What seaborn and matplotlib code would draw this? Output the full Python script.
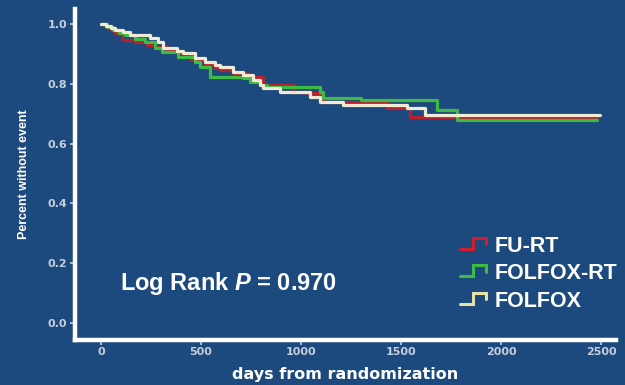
import matplotlib
matplotlib.use("Agg")
import matplotlib.pyplot as plt
from matplotlib.lines import Line2D
from matplotlib.legend_handler import HandlerBase
import seaborn as sns
import pandas as pd

# ---- data ----
groups = ["FU-RT", "FOLFOX-RT", "FOLFOX"]

furt_days = [0, 25, 50, 70, 105, 170, 230, 270, 330, 385, 450, 520, 570, 595, 660, 730, 810, 960, 1030, 1095, 1110, 1430, 1545, 2480]
furt_surv = [1.0, 0.99, 0.98, 0.97, 0.946, 0.94, 0.93, 0.923, 0.913, 0.903, 0.88, 0.863, 0.853, 0.846, 0.835, 0.823, 0.796, 0.773, 0.769, 0.756, 0.738, 0.719, 0.689, 0.689]

folfoxrt_days = [0, 30, 60, 90, 120, 170, 220, 270, 305, 385, 470, 495, 545, 710, 745, 795, 830, 1095, 1110, 1300, 1680, 1780, 2480]
folfoxrt_surv = [1.0, 0.99, 0.98, 0.97, 0.963, 0.95, 0.94, 0.92, 0.906, 0.89, 0.873, 0.856, 0.823, 0.819, 0.806, 0.796, 0.789, 0.773, 0.753, 0.746, 0.712, 0.679, 0.679]

folfox_days = [0, 25, 50, 70, 110, 145, 245, 285, 310, 380, 410, 470, 520, 570, 595, 660, 710, 760, 795, 810, 895, 1045, 1095, 1210, 1530, 1620, 2495]
folfox_surv = [1.0, 0.993, 0.987, 0.98, 0.972, 0.963, 0.953, 0.94, 0.92, 0.91, 0.903, 0.886, 0.873, 0.863, 0.856, 0.839, 0.829, 0.813, 0.796, 0.786, 0.773, 0.756, 0.739, 0.729, 0.719, 0.696, 0.696]

x_ticks = [0, 500, 1000, 1500, 2000, 2500]
y_ticks = [0.0, 0.2, 0.4, 0.6, 0.8, 1.0]
y_ticklabels = ["0.0", "0.2", "0.4", "0.6", "0.8", "1.0"]
annotation = "Log Rank $\\mathit{P}$ = 0.970"

# ---- build table ----
frames = []
for g, d, s in [("FU-RT", furt_days, furt_surv),
                ("FOLFOX-RT", folfoxrt_days, folfoxrt_surv),
                ("FOLFOX", folfox_days, folfox_surv)]:
    frames.append(pd.DataFrame({"days": d, "surv": s, "group": g}))
df = pd.concat(frames, ignore_index=True)

BG = "#1d4a7e"
palette = {"FU-RT": "#b8222e", "FOLFOX-RT": "#3dbb42", "FOLFOX": "#f1ebd6"}
legend_colors = {"FU-RT": "#c8202c", "FOLFOX-RT": "#3dbb42", "FOLFOX": "#e8e0a8"}
TICKC = "#c6cedb"

sns.set_theme(style="white")
plt.rcParams["font.family"] = ["DejaVu Sans"]
plt.rcParams["mathtext.fontset"] = "custom"
plt.rcParams["mathtext.it"] = "Liberation Sans:italic:bold"
plt.rcParams["mathtext.rm"] = "Liberation Sans:bold"

fig = plt.figure(figsize=(6.25, 3.85), dpi=100, facecolor=BG)
ax = fig.add_axes([75 / 625, 1 - 339.5 / 385, (616 - 75) / 625, (339.5 - 9) / 385])
ax.set_facecolor(BG)

sns.lineplot(data=df, x="days", y="surv", hue="group", hue_order=groups,
             palette=palette, drawstyle="steps-post", estimator=None,
             linewidth=2.3, ax=ax, legend=False, sort=True)

ax.set_xlim(-130, 2575)
ax.set_ylim(-0.055, 1.05)

for side in ["top", "right"]:
    ax.spines[side].set_visible(False)
for side in ["left", "bottom"]:
    ax.spines[side].set_color("white")
    ax.spines[side].set_linewidth(3.2)

ax.set_xticks(x_ticks)
ax.set_xticklabels([str(t) for t in x_ticks])
ax.set_yticks(y_ticks)
ax.set_yticklabels(y_ticklabels)
ax.tick_params(axis="both", colors=TICKC, length=3.5, width=1.2, labelsize=8,
               direction="out", bottom=True, left=True)
for lab in ax.get_xticklabels() + ax.get_yticklabels():
    lab.set_fontweight("bold")
    lab.set_color(TICKC)
ax.tick_params(axis="x", pad=2)
ax.tick_params(axis="y", pad=2)

ax.set_xlabel("days from randomization", color="white", fontsize=11.5,
              fontweight="bold", family="DejaVu Sans", labelpad=7)
ax.set_ylabel("Percent without event", color="white", fontsize=9,
              fontweight="bold", family="Liberation Sans", labelpad=13)

ax.text(0.283, 0.17, annotation, transform=ax.transAxes, color="white",
        fontsize=17, fontweight="bold", family="Liberation Sans",
        ha="center", va="center")


class StepHandler(HandlerBase):
    def create_artists(self, legend, orig_handle, xdescent, ydescent,
                       width, height, fontsize, trans):
        x0 = -xdescent
        y0 = -ydescent
        xs = [x0, x0 + 0.42 * width, x0 + 0.42 * width, x0 + 0.85 * width, x0 + 0.85 * width]
        ys = [y0 + 0.2 * height, y0 + 0.2 * height, y0 + 0.95 * height,
              y0 + 0.95 * height, y0 + 0.5 * height]
        ln = Line2D(xs, ys, color=orig_handle.get_color(), linewidth=2.2,
                    solid_joinstyle="miter")
        ln.set_transform(trans)
        return [ln]


handles = [Line2D([], [], color=legend_colors[g]) for g in groups]
leg = fig.legend(handles, groups, loc="upper left",
                 bbox_to_anchor=(460 / 625, 1 - 236 / 385),
                 frameon=False, handler_map={Line2D: StepHandler()},
                 prop={"family": "Liberation Sans", "weight": "bold", "size": 15.5},
                 handlelength=1.4, handletextpad=0.2, labelspacing=0.3,
                 borderpad=0, borderaxespad=0)
for t in leg.get_texts():
    t.set_color("white")

fig.savefig("out.png", dpi=100, facecolor=BG)
